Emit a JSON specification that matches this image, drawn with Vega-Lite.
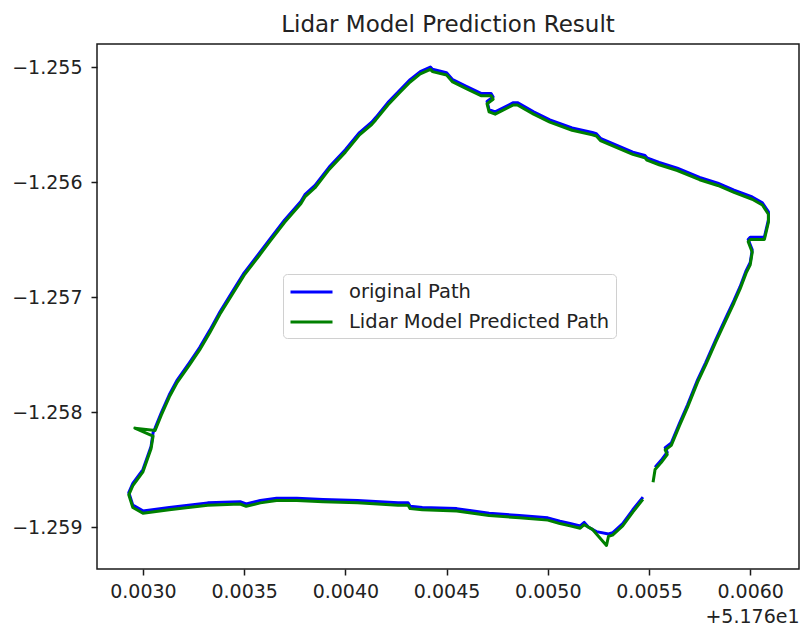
{
  "$schema": "https://vega.github.io/schema/vega-lite/v6.json",
  "width": 702,
  "height": 525,
  "autosize": {"type": "none"},
  "padding": {"left": 97, "top": 44, "right": 2, "bottom": 57},
  "background": "white",
  "title": {"text": "Lidar Model Prediction Result", "fontSize": 23, "font": "DejaVu Sans", "fontWeight": "normal", "color": "#222", "anchor": "middle", "offset": 8, "baseline": "bottom", "dy": 24},
  "datasets": {
    "orig": [
      {"i":1,"lon":51.76553,"lat":-1.25848},{"i":2,"lon":51.76556,"lat":-1.25842},{"i":3,"lon":51.76559,"lat":-1.25835},{"i":4,"lon":51.76558,"lat":-1.25831},{"i":5,"lon":51.76561,"lat":-1.25827},{"i":6,"lon":51.76565,"lat":-1.25810},{"i":7,"lon":51.76569,"lat":-1.25794},{"i":8,"lon":51.76574,"lat":-1.25772},{"i":9,"lon":51.76578,"lat":-1.25757},{"i":10,"lon":51.76583,"lat":-1.25737},
      {"i":11,"lon":51.76588,"lat":-1.25718},{"i":12,"lon":51.76592,"lat":-1.25703},{"i":13,"lon":51.76595,"lat":-1.25691},{"i":14,"lon":51.76598,"lat":-1.25677},{"i":15,"lon":51.76600,"lat":-1.25670},{"i":16,"lon":51.76601,"lat":-1.25659},{"i":17,"lon":51.76599,"lat":-1.25650},{"i":18,"lon":51.76600,"lat":-1.25648},{"i":19,"lon":51.76607,"lat":-1.25648},{"i":20,"lon":51.76609,"lat":-1.25633},
      {"i":21,"lon":51.76609,"lat":-1.25626},{"i":22,"lon":51.76606,"lat":-1.25618},{"i":23,"lon":51.76601,"lat":-1.25613},{"i":24,"lon":51.76592,"lat":-1.25607},{"i":25,"lon":51.76584,"lat":-1.25601},{"i":26,"lon":51.76575,"lat":-1.25596},{"i":27,"lon":51.76564,"lat":-1.25588},{"i":28,"lon":51.76555,"lat":-1.25583},{"i":29,"lon":51.76549,"lat":-1.25579},{"i":30,"lon":51.76548,"lat":-1.25577},
      {"i":31,"lon":51.76542,"lat":-1.25574},{"i":32,"lon":51.76526,"lat":-1.25562},{"i":33,"lon":51.76524,"lat":-1.25558},{"i":34,"lon":51.76522,"lat":-1.25557},{"i":35,"lon":51.76512,"lat":-1.25553},{"i":36,"lon":51.76501,"lat":-1.25546},{"i":37,"lon":51.76493,"lat":-1.25539},{"i":38,"lon":51.76485,"lat":-1.25531},{"i":39,"lon":51.76483,"lat":-1.25531},{"i":40,"lon":51.76474,"lat":-1.25539},
      {"i":41,"lon":51.76471,"lat":-1.25537},{"i":42,"lon":51.76470,"lat":-1.25530},{"i":43,"lon":51.76473,"lat":-1.25526},{"i":44,"lon":51.76472,"lat":-1.25523},{"i":45,"lon":51.76467,"lat":-1.25523},{"i":46,"lon":51.76460,"lat":-1.25517},{"i":47,"lon":51.76453,"lat":-1.25511},{"i":48,"lon":51.76450,"lat":-1.25505},{"i":49,"lon":51.76443,"lat":-1.25502},{"i":50,"lon":51.76442,"lat":-1.25500},
      {"i":51,"lon":51.76437,"lat":-1.25504},{"i":52,"lon":51.76432,"lat":-1.25511},{"i":53,"lon":51.76427,"lat":-1.25520},{"i":54,"lon":51.76421,"lat":-1.25531},{"i":55,"lon":51.76415,"lat":-1.25544},{"i":56,"lon":51.76413,"lat":-1.25548},{"i":57,"lon":51.76407,"lat":-1.25557},{"i":58,"lon":51.76400,"lat":-1.25572},{"i":59,"lon":51.76392,"lat":-1.25587},{"i":60,"lon":51.76385,"lat":-1.25603},
      {"i":61,"lon":51.76380,"lat":-1.25611},{"i":62,"lon":51.76378,"lat":-1.25617},{"i":63,"lon":51.76370,"lat":-1.25633},{"i":64,"lon":51.76363,"lat":-1.25649},{"i":65,"lon":51.76357,"lat":-1.25663},{"i":66,"lon":51.76350,"lat":-1.25679},{"i":67,"lon":51.76344,"lat":-1.25696},{"i":68,"lon":51.76338,"lat":-1.25713},{"i":69,"lon":51.76333,"lat":-1.25729},{"i":70,"lon":51.76328,"lat":-1.25744},
      {"i":71,"lon":51.76323,"lat":-1.25757},{"i":72,"lon":51.76317,"lat":-1.25772},{"i":73,"lon":51.76313,"lat":-1.25785},{"i":74,"lon":51.76309,"lat":-1.25801},{"i":75,"lon":51.76306,"lat":-1.25814},{"i":76,"lon":51.76305,"lat":-1.25818},{"i":77,"lon":51.76304,"lat":-1.25830},{"i":78,"lon":51.76302,"lat":-1.25840},{"i":79,"lon":51.76300,"lat":-1.25850},{"i":80,"lon":51.76295,"lat":-1.25862},
      {"i":81,"lon":51.76293,"lat":-1.25870},{"i":82,"lon":51.76295,"lat":-1.25881},{"i":83,"lon":51.76300,"lat":-1.25886},{"i":84,"lon":51.76313,"lat":-1.25883},{"i":85,"lon":51.76332,"lat":-1.25879},{"i":86,"lon":51.76348,"lat":-1.25878},{"i":87,"lon":51.76351,"lat":-1.25880},{"i":88,"lon":51.76358,"lat":-1.25877},{"i":89,"lon":51.76366,"lat":-1.25875},{"i":90,"lon":51.76376,"lat":-1.25875},
      {"i":91,"lon":51.76389,"lat":-1.25876},{"i":92,"lon":51.76406,"lat":-1.25877},{"i":93,"lon":51.76426,"lat":-1.25879},{"i":94,"lon":51.76431,"lat":-1.25879},{"i":95,"lon":51.76432,"lat":-1.25882},{"i":96,"lon":51.76438,"lat":-1.25883},{"i":97,"lon":51.76455,"lat":-1.25884},{"i":98,"lon":51.76471,"lat":-1.25888},{"i":99,"lon":51.76486,"lat":-1.25890},{"i":100,"lon":51.76500,"lat":-1.25892},
      {"i":101,"lon":51.76506,"lat":-1.25895},{"i":102,"lon":51.76511,"lat":-1.25897},{"i":103,"lon":51.76516,"lat":-1.25899},{"i":104,"lon":51.76518,"lat":-1.25896},{"i":105,"lon":51.76520,"lat":-1.25900},{"i":106,"lon":51.76524,"lat":-1.25904},{"i":107,"lon":51.76530,"lat":-1.25906},{"i":108,"lon":51.76532,"lat":-1.25905},{"i":109,"lon":51.76537,"lat":-1.25897},{"i":110,"lon":51.76542,"lat":-1.25885},
      {"i":111,"lon":51.76547,"lat":-1.25874}
    ],
    "pred": [
      {"i":1,"lon":51.76552,"lat":-1.25861},{"i":2,"lon":51.76553,"lat":-1.25850},{"i":3,"lon":51.76556,"lat":-1.25844},{"i":4,"lon":51.76559,"lat":-1.25837},{"i":5,"lon":51.76558,"lat":-1.25833},{"i":6,"lon":51.76561,"lat":-1.25829},{"i":7,"lon":51.76565,"lat":-1.25812},{"i":8,"lon":51.76569,"lat":-1.25796},{"i":9,"lon":51.76574,"lat":-1.25774},{"i":10,"lon":51.76578,"lat":-1.25759},
      {"i":11,"lon":51.76583,"lat":-1.25739},{"i":12,"lon":51.76588,"lat":-1.25720},{"i":13,"lon":51.76592,"lat":-1.25705},{"i":14,"lon":51.76595,"lat":-1.25693},{"i":15,"lon":51.76598,"lat":-1.25679},{"i":16,"lon":51.76600,"lat":-1.25672},{"i":17,"lon":51.76601,"lat":-1.25661},{"i":18,"lon":51.76599,"lat":-1.25652},{"i":19,"lon":51.76600,"lat":-1.25650},{"i":20,"lon":51.76607,"lat":-1.25650},
      {"i":21,"lon":51.76609,"lat":-1.25635},{"i":22,"lon":51.76609,"lat":-1.25628},{"i":23,"lon":51.76606,"lat":-1.25620},{"i":24,"lon":51.76601,"lat":-1.25615},{"i":25,"lon":51.76592,"lat":-1.25609},{"i":26,"lon":51.76584,"lat":-1.25603},{"i":27,"lon":51.76575,"lat":-1.25598},{"i":28,"lon":51.76564,"lat":-1.25590},{"i":29,"lon":51.76555,"lat":-1.25585},{"i":30,"lon":51.76549,"lat":-1.25581},
      {"i":31,"lon":51.76548,"lat":-1.25579},{"i":32,"lon":51.76542,"lat":-1.25576},{"i":33,"lon":51.76526,"lat":-1.25564},{"i":34,"lon":51.76524,"lat":-1.25560},{"i":35,"lon":51.76522,"lat":-1.25559},{"i":36,"lon":51.76512,"lat":-1.25555},{"i":37,"lon":51.76501,"lat":-1.25548},{"i":38,"lon":51.76493,"lat":-1.25541},{"i":39,"lon":51.76485,"lat":-1.25533},{"i":40,"lon":51.76483,"lat":-1.25533},
      {"i":41,"lon":51.76474,"lat":-1.25541},{"i":42,"lon":51.76471,"lat":-1.25539},{"i":43,"lon":51.76470,"lat":-1.25532},{"i":44,"lon":51.76473,"lat":-1.25528},{"i":45,"lon":51.76472,"lat":-1.25525},{"i":46,"lon":51.76467,"lat":-1.25525},{"i":47,"lon":51.76460,"lat":-1.25519},{"i":48,"lon":51.76453,"lat":-1.25513},{"i":49,"lon":51.76450,"lat":-1.25507},{"i":50,"lon":51.76443,"lat":-1.25504},
      {"i":51,"lon":51.76442,"lat":-1.25502},{"i":52,"lon":51.76437,"lat":-1.25506},{"i":53,"lon":51.76432,"lat":-1.25513},{"i":54,"lon":51.76427,"lat":-1.25522},{"i":55,"lon":51.76421,"lat":-1.25533},{"i":56,"lon":51.76415,"lat":-1.25546},{"i":57,"lon":51.76413,"lat":-1.25550},{"i":58,"lon":51.76407,"lat":-1.25559},{"i":59,"lon":51.76400,"lat":-1.25574},{"i":60,"lon":51.76392,"lat":-1.25589},
      {"i":61,"lon":51.76385,"lat":-1.25605},{"i":62,"lon":51.76380,"lat":-1.25613},{"i":63,"lon":51.76378,"lat":-1.25619},{"i":64,"lon":51.76370,"lat":-1.25635},{"i":65,"lon":51.76363,"lat":-1.25651},{"i":66,"lon":51.76357,"lat":-1.25665},{"i":67,"lon":51.76350,"lat":-1.25681},{"i":68,"lon":51.76344,"lat":-1.25698},{"i":69,"lon":51.76338,"lat":-1.25715},{"i":70,"lon":51.76333,"lat":-1.25731},
      {"i":71,"lon":51.76328,"lat":-1.25746},{"i":72,"lon":51.76323,"lat":-1.25759},{"i":73,"lon":51.76317,"lat":-1.25774},{"i":74,"lon":51.76313,"lat":-1.25787},{"i":75,"lon":51.76309,"lat":-1.25803},{"i":76,"lon":51.76306,"lat":-1.25816},{"i":77,"lon":51.76296,"lat":-1.25814},{"i":78,"lon":51.76305,"lat":-1.25821},{"i":79,"lon":51.76304,"lat":-1.25832},{"i":80,"lon":51.76302,"lat":-1.25842},
      {"i":81,"lon":51.76300,"lat":-1.25852},{"i":82,"lon":51.76295,"lat":-1.25864},{"i":83,"lon":51.76293,"lat":-1.25872},{"i":84,"lon":51.76295,"lat":-1.25883},{"i":85,"lon":51.76300,"lat":-1.25888},{"i":86,"lon":51.76313,"lat":-1.25885},{"i":87,"lon":51.76332,"lat":-1.25881},{"i":88,"lon":51.76348,"lat":-1.25880},{"i":89,"lon":51.76351,"lat":-1.25882},{"i":90,"lon":51.76358,"lat":-1.25879},
      {"i":91,"lon":51.76366,"lat":-1.25877},{"i":92,"lon":51.76376,"lat":-1.25877},{"i":93,"lon":51.76389,"lat":-1.25878},{"i":94,"lon":51.76406,"lat":-1.25879},{"i":95,"lon":51.76426,"lat":-1.25881},{"i":96,"lon":51.76431,"lat":-1.25881},{"i":97,"lon":51.76432,"lat":-1.25884},{"i":98,"lon":51.76438,"lat":-1.25885},{"i":99,"lon":51.76455,"lat":-1.25886},{"i":100,"lon":51.76471,"lat":-1.25890},
      {"i":101,"lon":51.76486,"lat":-1.25892},{"i":102,"lon":51.76500,"lat":-1.25894},{"i":103,"lon":51.76506,"lat":-1.25897},{"i":104,"lon":51.76511,"lat":-1.25899},{"i":105,"lon":51.76516,"lat":-1.25901},{"i":106,"lon":51.76518,"lat":-1.25898},{"i":107,"lon":51.76522,"lat":-1.25902},{"i":108,"lon":51.76529,"lat":-1.25916},{"i":109,"lon":51.76530,"lat":-1.25908},{"i":110,"lon":51.76532,"lat":-1.25907},
      {"i":111,"lon":51.76537,"lat":-1.25899},{"i":112,"lon":51.76542,"lat":-1.25887},{"i":113,"lon":51.76547,"lat":-1.25876}
    ]
  },
  "layer": [
    {
      "data": {"name": "orig"},
      "transform": [{"calculate": "'original Path'", "as": "series"}],
      "mark": {"type": "line", "strokeWidth": 3, "strokeJoin": "round"},
      "encoding": {
        "x": {"field": "lon", "type": "quantitative"},
        "y": {"field": "lat", "type": "quantitative"},
        "order": {"field": "i", "type": "quantitative"},
        "color": {"field": "series", "type": "nominal"}
      }
    },
    {
      "data": {"name": "pred"},
      "transform": [{"calculate": "'Lidar Model Predicted Path'", "as": "series"}],
      "mark": {"type": "line", "strokeWidth": 3, "strokeJoin": "round"},
      "encoding": {
        "x": {"field": "lon", "type": "quantitative"},
        "y": {"field": "lat", "type": "quantitative"},
        "order": {"field": "i", "type": "quantitative"},
        "color": {"field": "series", "type": "nominal"}
      }
    }
  ],
  "resolve": {"scale": {"x": "shared", "y": "shared", "color": "shared"}},
  "encoding": {
    "x": {"field": "lon", "type": "quantitative",
      "scale": {"domain": [51.762773, 51.766241], "nice": false, "zero": false},
      "axis": {"values": [51.763, 51.7635, 51.764, 51.7645, 51.765, 51.7655, 51.766], "labelExpr": "format(datum.value - 51.76, '.4f')", "title": "+5.176e1", "titleAnchor": "end", "titleAlign": "right", "titleFontSize": 19, "titleFontWeight": "normal", "titleColor": "#222", "titlePadding": 6, "labelPadding": 7}},
    "y": {"field": "lat", "type": "quantitative",
      "scale": {"domain": [-1.259365, -1.2548], "nice": false, "zero": false},
      "axis": {"values": [-1.259, -1.258, -1.257, -1.256, -1.255], "format": ".3f", "title": null, "labelPadding": 9}},
    "color": {"field": "series", "type": "nominal",
      "scale": {"domain": ["original Path", "Lidar Model Predicted Path"], "range": ["#0000ff", "#008000"]},
      "legend": {"orient": "none", "legendX": 186, "legendY": 230, "title": null, "symbolType": "M-1,0H3", "symbolSize": 441, "symbolStrokeWidth": 2.8, "symbolFillColor": "transparent", "labelFontSize": 19.5, "labelLimit": 0, "labelColor": "#222", "padding": 6, "rowPadding": 8, "labelOffset": 36, "strokeColor": "#d0d0d0", "fillColor": "white", "cornerRadius": 4}}
  },
  "config": {
    "font": "DejaVu Sans",
    "view": {"stroke": "#1a1a1a", "strokeWidth": 1.5},
    "axis": {"domain": false, "grid": false, "tickColor": "#1a1a1a", "tickWidth": 1.5, "tickSize": 6, "labelFontSize": 19, "labelColor": "#222", "labelFont": "DejaVu Sans"}
  }
}
